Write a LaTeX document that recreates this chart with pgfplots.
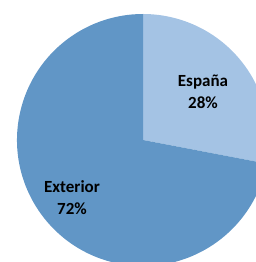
\documentclass[border=0pt]{standalone}
\usepackage{pgfplots}
\pgfplotsset{compat=1.18}
\usepackage{fontspec}
\setmainfont{Carlito}
\definecolor{ext}{HTML}{6196C6}
\definecolor{esp}{HTML}{A4C3E4}
\begin{document}
\begin{tikzpicture}
\begin{axis}[
  scale only axis, width=256pt, height=262pt,
  xmin=-143, xmax=113, ymin=-122, ymax=140,
  hide axis, clip=true,
]
% values (percent): Espa\~na 28, Exterior 72
\addplot[draw=none] coordinates {(0,0)};
\fill[esp] (axis cs:0,0) -- (axis cs:0,126) arc[start angle=90, end angle={90-0.28*360}, radius=126pt] -- cycle;
\fill[ext] (axis cs:0,0) -- ({126*cos(90-0.28*360)},{126*sin(90-0.28*360)}) arc[start angle={90-0.28*360}, end angle={-270}, radius=126pt] -- cycle;
\node[font=\bfseries\fontsize{17}{22}\selectfont, align=center, text=black] at (axis cs:60,48) {España\\28\%};
\node[font=\bfseries\fontsize{17}{22}\selectfont, align=center, text=black] at (axis cs:-71,-58) {Exterior\\72\%};
\end{axis}
\path[use as bounding box] (current axis.south west) rectangle (current axis.north east);
\end{tikzpicture}
\end{document}
